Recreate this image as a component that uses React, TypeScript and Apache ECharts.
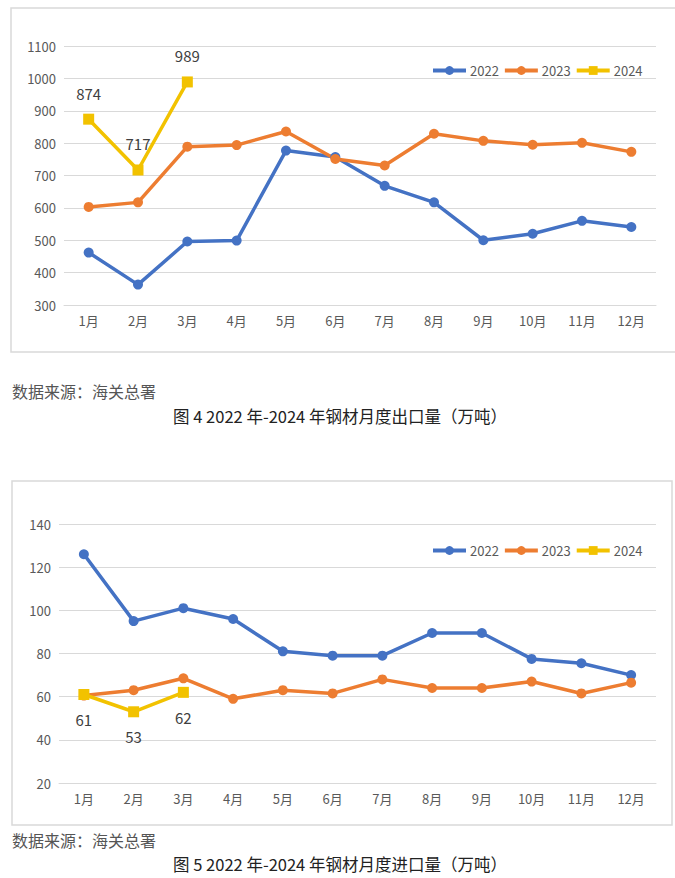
import React, { useEffect, useRef } from "react";
import * as echarts from "echarts";

const months = ["1月", "2月", "3月", "4月", "5月", "6月", "7月", "8月", "9月", "10月", "11月", "12月"];
const years = ["2022", "2023", "2024"];

const export2022 = [462, 363, 496, 499, 777, 757, 668, 617, 500, 520, 560, 541];
const export2023 = [603, 617, 789, 794, 836, 751, 731, 829, 807, 795, 801, 773];
const export2024 = [874, 717, 989];

const import2022 = [126, 95, 101, 96, 81, 79, 79, 89.5, 89.5, 77.5, 75.5, 70];
const import2023 = [60.5, 63, 68.5, 59, 63, 61.5, 68, 64, 64, 67, 61.5, 66.5];
const import2024 = [61, 53, 62];

const sourceText = "数据来源：海关总署";
const caption1 = "图 4 2022 年-2024 年钢材月度出口量（万吨）";
const caption2 = "图 5 2022 年-2024 年钢材月度进口量（万吨）";

const COLORS = ["#4472C4", "#ED7D31", "#F2C200"];
const FONT = "'Noto Sans CJK SC', 'Noto Sans', sans-serif";

export default function App() {
  const ref = useRef<HTMLDivElement>(null);
  useEffect(() => {
    if (!ref.current) return;
    const chart = echarts.init(ref.current, null, { renderer: "svg" });
    const xAxisBase = {
      type: "category",
      data: months,
      boundaryGap: true,
      axisLine: { lineStyle: { color: "#d9d9d9", width: 1 } },
      axisTick: { show: false },
      axisLabel: { color: "#595959", fontSize: 13, margin: 9, fontFamily: FONT },
    };
    const yAxisBase = {
      type: "value",
      axisLine: { show: false },
      axisTick: { show: false },
      splitLine: { lineStyle: { color: "#d9d9d9", width: 1 } },
      axisLabel: { color: "#595959", fontSize: 13, margin: 8, fontFamily: FONT, formatter: (v: number) => String(v) },
    };
    const mk = (name: string, data: number[], idx: number, colorIdx: number, extra: any = {}) => ({
      type: "line",
      name,
      data,
      xAxisIndex: idx,
      yAxisIndex: idx,
      symbol: colorIdx === 2 ? "rect" : "circle",
      symbolSize: colorIdx === 2 ? 11 : 10,
      lineStyle: { width: 3.5, color: COLORS[colorIdx] },
      itemStyle: { color: COLORS[colorIdx] },
      z: colorIdx === 2 ? 3 : 2,
      ...extra,
    });
    const legendBase = {
      data: years,
      itemWidth: 33,
      itemHeight: 11,
      itemGap: 4,
      lineStyle: { width: 4 },
      textStyle: { color: "#595959", fontSize: 13, fontFamily: FONT, padding: [0, 0, 0, -1] },
    };
    chart.setOption({
      animation: false,
      backgroundColor: "#ffffff",
      textStyle: { fontFamily: FONT },
      grid: [
        { left: 64, top: 46, width: 592, height: 259 },
        { left: 59, top: 524, width: 597, height: 259 },
      ],
      xAxis: [
        { ...xAxisBase, gridIndex: 0 },
        { ...xAxisBase, gridIndex: 1 },
      ],
      yAxis: [
        { ...yAxisBase, gridIndex: 0, min: 300, max: 1100, interval: 100 },
        { ...yAxisBase, gridIndex: 1, min: 20, max: 140, interval: 20 },
      ],
      legend: [
        { ...legendBase, left: 426, top: 59 },
        { ...legendBase, left: 426, top: 539 },
      ],
      series: [
        mk("2022", export2022, 0, 0),
        mk("2023", export2023, 0, 1),
        mk("2024", export2024, 0, 2, {
          label: { show: true, position: "top", distance: 13, color: "#404040", fontSize: 15, fontFamily: FONT },
        }),
        mk("2022", import2022, 1, 0),
        mk("2023", import2023, 1, 1),
        mk("2024", import2024, 1, 2, {
          label: { show: true, position: "bottom", distance: 12, color: "#404040", fontSize: 15, fontFamily: FONT },
        }),
      ],
      graphic: [
        {
          type: "rect",
          shape: { x: 11, y: 8, width: 670, height: 344 },
          style: { fill: "none", stroke: "#d9d9d9", lineWidth: 1.5 },
          silent: true,
        },
        {
          type: "rect",
          shape: { x: 12, y: 481, width: 660, height: 344 },
          style: { fill: "none", stroke: "#d9d9d9", lineWidth: 1.5 },
          silent: true,
        },
        {
          type: "text",
          x: 12,
          y: 391,
          style: { text: sourceText, fill: "#555555", fontSize: 16, fontFamily: FONT, verticalAlign: "middle", align: "left" },
        },
        {
          type: "text",
          x: 340,
          y: 416,
          style: { text: caption1, fill: "#222222", fontSize: 16.5, fontFamily: FONT, verticalAlign: "middle", align: "center" },
        },
        {
          type: "text",
          x: 12,
          y: 840,
          style: { text: sourceText, fill: "#555555", fontSize: 16, fontFamily: FONT, verticalAlign: "middle", align: "left" },
        },
        {
          type: "text",
          x: 340,
          y: 864,
          style: { text: caption2, fill: "#222222", fontSize: 16.5, fontFamily: FONT, verticalAlign: "middle", align: "center" },
        },
      ],
    });
    return () => chart.dispose();
  }, []);
  return (
    <div
      ref={ref}
      style={{ position: "absolute", left: 0, top: 0, width: 675, height: 878, background: "#fff" }}
    />
  );
}
